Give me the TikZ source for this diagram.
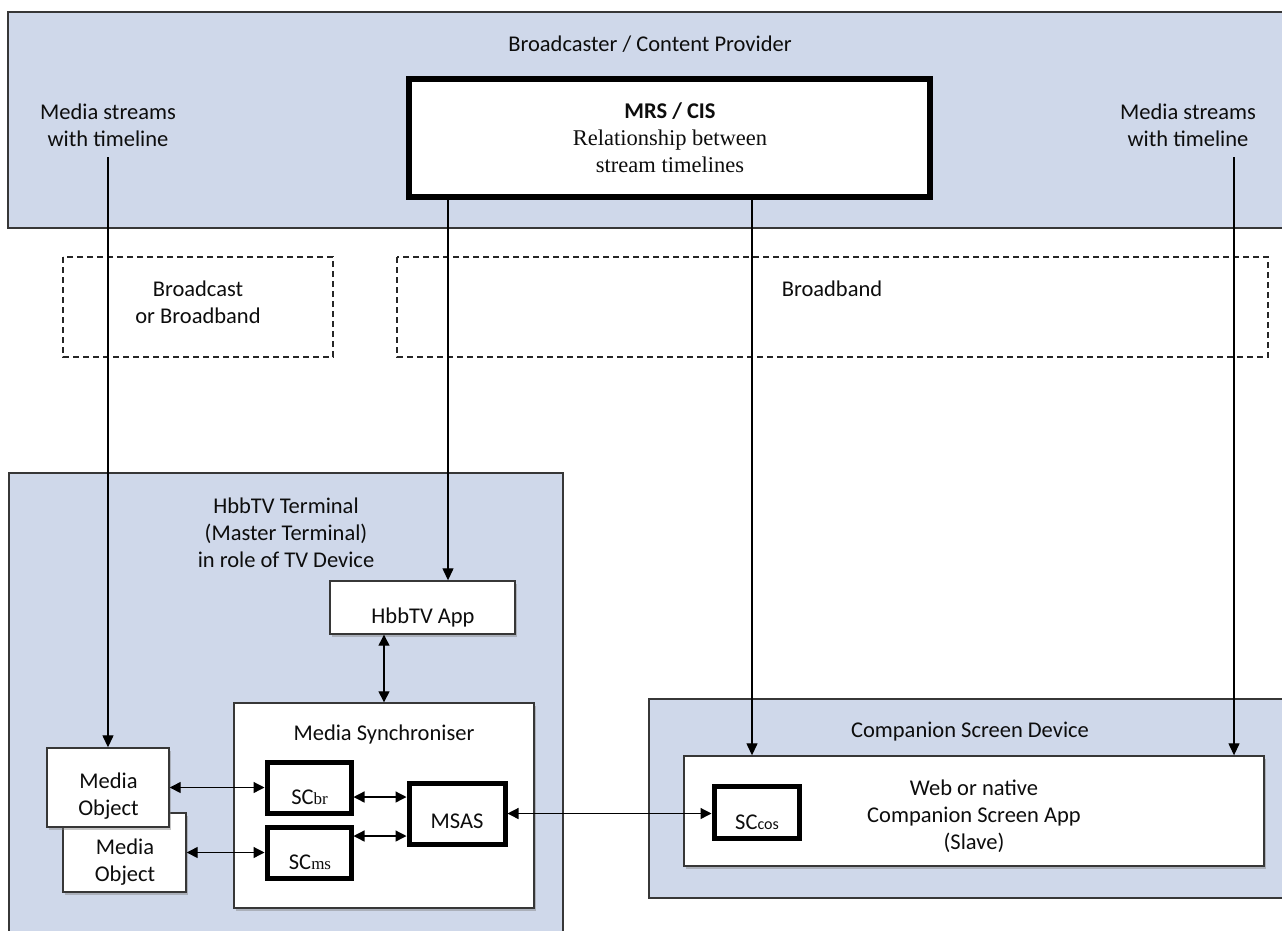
\documentclass[tikz,border=0pt]{standalone}
\usepackage{fontspec}
\setmainfont{Carlito}
\newfontfamily\timesf{Liberation Serif}
\usetikzlibrary{arrows.meta,shadows}
\definecolor{panel}{RGB}{207,216,234}
\definecolor{edge}{RGB}{55,55,55}
\begin{document}
\begin{tikzpicture}[x=1pt,y=-1pt,
  container/.style={draw=edge, line width=1.5pt, fill=panel},
  dashbox/.style={draw=black!85, line width=1.3pt, dash pattern=on 6pt off 4pt},
  wbox/.style={draw=edge, line width=1.4pt, fill=white, inner sep=0pt,
    drop shadow={shadow xshift=1.5pt, shadow yshift=-2.5pt, fill=black!50, opacity=0.45}},
  tbox/.style={draw=black, line width=5pt, fill=white, inner sep=0pt},
  lbl/.style={font=\fontsize{22.5}{27}\selectfont, align=center, inner sep=0pt, text=black!95},
  sub/.style={font=\fontsize{22.5}{26}\selectfont, inner sep=0pt, text=black!95},
  conn/.style={line width=1.3pt, -{Triangle[length=12pt,width=11pt]}},
  dconn/.style={line width=1.3pt, {Triangle[length=11pt,width=11pt]}-{Triangle[length=11pt,width=11pt]}}]
\useasboundingbox (0,0) rectangle (1282,930);
% containers
\draw[container] (8,12) rectangle (1295,228);
\draw[container] (9,473) rectangle (563,945);
\draw[container] (649,699) rectangle (1295,898);
% dashed channels
\draw[dashbox] (63,257) rectangle (333,357);
\draw[dashbox] (397,257) rectangle (1268,357);
% texts of containers
\node[lbl] (bcp) at (650,44) {Broadcaster / Content Provider};
\node[lbl] (ls) at (108,125) {Media streams\\with timeline};
\node[lbl] (rs) at (1188,125) {Media streams\\with timeline};
\node[lbl] (bcast) at (198,302.5) {Broadcast\\or Broadband};
\node[lbl] (bband) at (832,289) {Broadband};
\node[lbl] (term) at (286,533) {HbbTV Terminal\\(Master Terminal)\\in role of TV Device};
\node[lbl] (csd) at (970,732) {Companion Screen Device};
% MRS / CIS
\node[tbox, line width=5.5pt, minimum width=521, minimum height=118] (mrs) at (669.5,138) {};
\node[lbl] (mrst) at (670,138) {{\bfseries MRS / CIS}\\{\timesf Relationship between}\\{\timesf stream timelines}};
% HbbTV terminal parts
\node[wbox, minimum width=185, minimum height=53] (app) at (422.5,607.5) {};
\node[lbl] (appt) at (423,617) {HbbTV App};
\node[wbox, minimum width=123, minimum height=79] (mo2) at (124.5,852.5) {};
\node[lbl] (mo2t) at (125,862.5) {Media\\Object};
\node[wbox, minimum width=122, minimum height=79] (mo1) at (108,787.5) {};
\node[lbl] (mo1t) at (108.5,796.5) {Media\\Object};
\node[wbox, minimum width=300, minimum height=205] (ms) at (384,805.5) {};
\node[lbl] (mst) at (384,734) {Media Synchroniser};
\node[tbox, minimum width=84, minimum height=51] (scbr) at (309,787.5) {};
\node[sub] (scbrt) at (309.5,797) {SC{\timesf\fontsize{17}{17}\selectfont br}};
\node[tbox, minimum width=84, minimum height=51] (scms) at (309,852.5) {};
\node[sub] (scmst) at (310,862) {SC{\timesf\fontsize{17}{17}\selectfont ms}};
\node[tbox, minimum width=96, minimum height=61] (msas) at (457,813.5) {};
\node[sub] (msast) at (457,821.5) {MSAS};
% companion device parts
\node[wbox, minimum width=580, minimum height=110] (web) at (974,811) {};
\node[lbl] (webt) at (974,816.5) {Web or native\\Companion Screen App\\(Slave)};
\node[tbox, minimum width=85, minimum height=52] (sccos) at (756.5,812) {};
\node[sub] (sccost) at (757,822) {SC{\fontsize{16}{16}\selectfont cos}};
% helper coordinates
\coordinate (lsend) at (108,157);
\coordinate (rsend) at (1234,157);
\coordinate (xa) at (448,0);
\coordinate (xb) at (752,0);
\coordinate (r1) at (0,797);
\coordinate (r2) at (0,836);
% connectors
\draw[conn] (lsend) -- (mo1.north);
\draw[conn] (rsend) -- (web.north -| rsend);
\draw[conn] (mrs.south -| xa) -- (app.north -| xa);
\draw[conn] (mrs.south -| xb) -- (web.north -| xb);
\draw[dconn] (app.south -| ms.north) -- (ms.north);
\draw[dconn] (mo1.east) -- (scbr.west);
\draw[dconn] (mo2.east) -- (scms.west);
\draw[dconn] (scbr.east |- r1) -- (msas.west |- r1);
\draw[dconn] (scms.east |- r2) -- (msas.west |- r2);
\draw[dconn] (msas.east) -- (sccos.west |- msas.east);
\end{tikzpicture}
\end{document}
